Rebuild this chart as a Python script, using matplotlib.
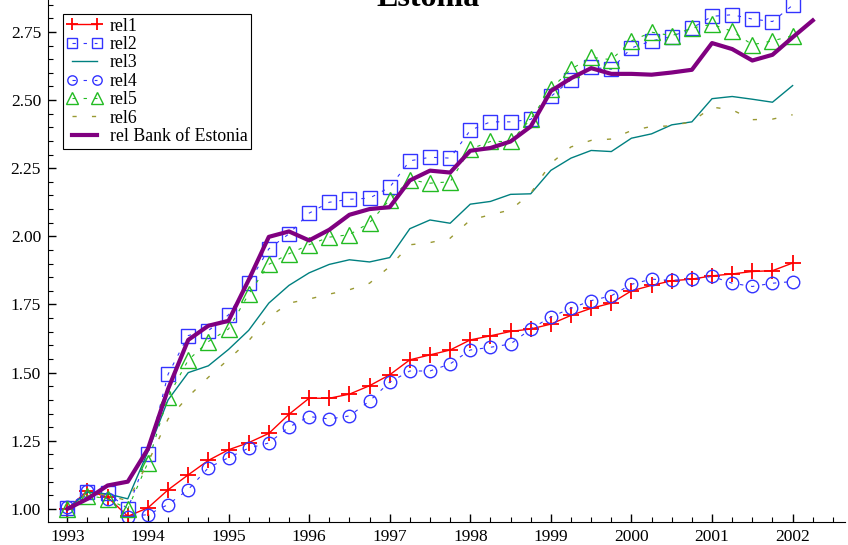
import numpy as np
import matplotlib
matplotlib.use("Agg")
import matplotlib.pyplot as plt
from matplotlib.ticker import MultipleLocator

# quarterly observations, 1993Q1 onwards
start_year = 1993
rel1 = [1.00, 1.067, 1.043, 0.973, 1.004, 1.07, 1.125, 1.178, 1.217, 1.243,
        1.277, 1.347, 1.406, 1.406, 1.421, 1.452, 1.492, 1.547, 1.565, 1.583,
        1.62, 1.635, 1.651, 1.66, 1.678, 1.71, 1.736, 1.755, 1.80, 1.82,
        1.837, 1.843, 1.855, 1.862, 1.871, 1.874, 1.902]
rel2 = [1.004, 1.062, 1.059, 1.00, 1.20, 1.494, 1.636, 1.654, 1.712, 1.828,
        1.954, 2.009, 2.085, 2.125, 2.136, 2.14, 2.18, 2.277, 2.29, 2.287,
        2.389, 2.42, 2.42, 2.429, 2.513, 2.574, 2.62, 2.613, 2.691, 2.717,
        2.733, 2.764, 2.807, 2.813, 2.797, 2.788, 2.848]
rel3 = [1.00, 1.061, 1.055, 1.037, 1.21, 1.40, 1.50, 1.525, 1.585, 1.655,
        1.755, 1.82, 1.866, 1.897, 1.914, 1.906, 1.922, 2.028, 2.06, 2.048,
        2.118, 2.128, 2.154, 2.156, 2.242, 2.287, 2.315, 2.311, 2.36, 2.376,
        2.409, 2.42, 2.505, 2.513, 2.503, 2.492, 2.553]
rel4 = [1.006, 1.065, 1.037, 0.972, 0.979, 1.016, 1.071, 1.151, 1.188, 1.223,
        1.242, 1.30, 1.339, 1.33, 1.341, 1.396, 1.465, 1.506, 1.506, 1.532,
        1.583, 1.593, 1.605, 1.66, 1.704, 1.736, 1.764, 1.782, 1.824, 1.843,
        1.838, 1.843, 1.853, 1.828, 1.816, 1.828, 1.834]
rel5 = [1.00, 1.049, 1.037, 1.00, 1.17, 1.411, 1.546, 1.614, 1.66, 1.788,
        1.897, 1.936, 1.969, 1.997, 2.006, 2.05, 2.134, 2.207, 2.195, 2.20,
        2.32, 2.348, 2.348, 2.43, 2.541, 2.613, 2.657, 2.648, 2.717, 2.749,
        2.736, 2.764, 2.778, 2.752, 2.703, 2.717, 2.736]
rel6 = [1.00, 1.06, 1.05, 1.03, 1.17, 1.33, 1.412, 1.483, 1.549, 1.617,
        1.703, 1.755, 1.77, 1.788, 1.804, 1.828, 1.889, 1.969, 1.977, 1.993,
        2.06, 2.079, 2.097, 2.158, 2.268, 2.328, 2.352, 2.357, 2.388, 2.403,
        2.405, 2.421, 2.474, 2.464, 2.428, 2.43, 2.446]
rel_bank = [1.00, 1.037, 1.086, 1.10, 1.22, 1.44, 1.62, 1.672, 1.69, 1.84,
            1.998, 2.018, 1.985, 2.024, 2.079, 2.10, 2.107, 2.205, 2.241, 2.234,
            2.314, 2.324, 2.348, 2.403, 2.533, 2.58, 2.617, 2.596, 2.596, 2.593,
            2.601, 2.611, 2.709, 2.687, 2.645, 2.666, 2.73, 2.792]
year_ticks = list(range(1993, 2003))


def quarters(vals):
    return start_year + np.arange(len(vals)) / 4.0


plt.rcParams['font.family'] = ['Liberation Serif', 'DejaVu Serif']

fig = plt.figure(figsize=(8.48, 5.45), dpi=100)
ax = fig.add_axes([48 / 848, 23 / 545, 797 / 848, 522 / 545])

blue = '#3333ff'
ax.plot(quarters(rel1), rel1, color='red', lw=1.0, marker='+', ms=11, mew=1.3,
        label='rel1')
ax.plot(quarters(rel2), rel2, color=blue, lw=0.8, ls=(0, (3, 7)), marker='s',
        ms=10, mfc='none', mec=blue, mew=1.0, label='rel2')
ax.plot(quarters(rel3), rel3, color='#008080', lw=1.0, label='rel3')
ax.plot(quarters(rel4), rel4, color=blue, lw=0.8, ls=(0, (3, 7)), marker='o',
        ms=9, mfc='none', mec=blue, mew=1.0, label='rel4')
ax.plot(quarters(rel5), rel5, color='#22bb22', lw=0.8, ls=(0, (3, 7)), marker='^',
        ms=11, mfc='none', mec='#22bb22', mew=1.0, label='rel5')
ax.plot(quarters(rel6), rel6, color='#999933', lw=1.0, ls=(0, (3, 11)),
        label='rel6')
ax.plot(quarters(rel_bank), rel_bank, color='#800080', lw=3.0,
        label='rel Bank of Estonia')

ax.set_xlim(1992.76, 2002.65)
ax.set_ylim(0.952, 2.867)
ax.set_xticks(year_ticks)
ax.xaxis.set_minor_locator(MultipleLocator(0.25))
ax.yaxis.set_major_locator(MultipleLocator(0.25))
ax.yaxis.set_minor_locator(MultipleLocator(0.05))
ax.yaxis.set_major_formatter(matplotlib.ticker.FormatStrFormatter('%.2f'))
ax.tick_params(which='both', direction='in', labelsize=12.5, top=False, right=False)
ax.tick_params(which='major', length=6, width=1)
ax.tick_params(which='minor', length=3.5, width=0.8)
ax.tick_params(axis='x', pad=5)
ax.tick_params(axis='y', pad=5)
ax.spines['top'].set_visible(False)
ax.spines['right'].set_visible(False)

leg = ax.legend(loc='upper left', bbox_to_anchor=(63 / 848, 1 - 14 / 545),
                bbox_transform=fig.transFigure, numpoints=2, handlelength=2.0,
                markerscale=0.75, fontsize=12.8, fancybox=False, framealpha=1,
                borderpad=0.2, labelspacing=0.08, handletextpad=0.45,
                borderaxespad=0)
leg.get_frame().set_edgecolor('black')
leg.get_frame().set_linewidth(0.8)

fig.text(0.505, 1 - 6 / 545, 'Estonia', ha='center', va='baseline',
         fontsize=23, fontweight='bold')

fig.savefig('out.png', dpi=100)
